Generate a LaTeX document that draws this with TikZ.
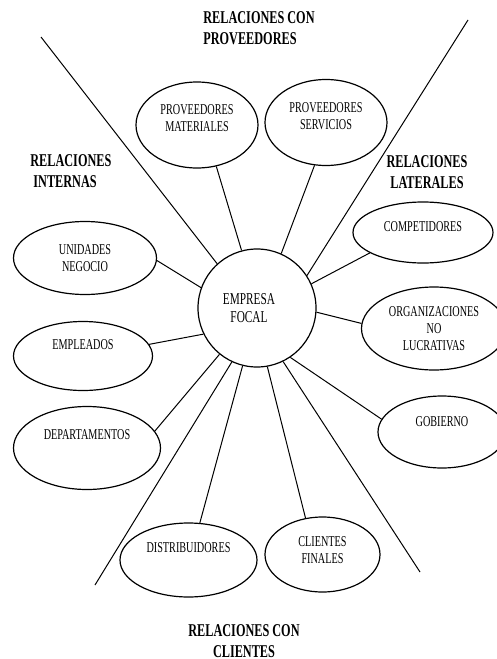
\documentclass[tikz,border=0pt]{standalone}
\usepackage{fontspec}
\setmainfont{Liberation Serif}[FakeStretch=0.68]
\usepackage{tikz}
\usetikzlibrary{shapes,arrows,positioning}
\tikzstyle{oval} = [ellipse, draw, line width=0.6pt, inner sep=0pt,
    align=center, font=\fontsize{7.5}{8.5}\selectfont]
\tikzstyle{focal} = [circle, draw, line width=0.6pt, inner sep=0pt,
    minimum size=59pt, align=center, font=\fontsize{8.3}{9}\selectfont]
\tikzstyle{group} = [inner sep=0pt, font=\fontsize{9}{10.5}\selectfont\bfseries]
\tikzstyle{line} = [draw, line width=0.5pt]
% extra depth under the last line, lifts the text inside its oval
\newcommand{\txtup}[1]{\rule[-#1]{0pt}{0pt}}

\begin{document}
\begin{tikzpicture}[x=0.5pt, y=-0.5pt]
		\useasboundingbox (0,0) rectangle (497,659);
		% node placement
		\node [focal] (empresa) at (257,308) {EMPRESA\hspace*{8pt}\\FOCAL\hspace*{8pt}};
		\node [oval, minimum width=61pt, minimum height=43pt] (provmat) at (197,125) {PROVEEDORES\\MATERIALES\txtup{6.5pt}};
		\node [oval, minimum width=61pt, minimum height=43pt] (provserv) at (326,122.5) {PROVEEDORES\\SERVICIOS\txtup{6pt}};
		\node [oval, minimum width=71.5pt, minimum height=36.5pt] (unidades) at (85,258) {UNIDADES\\NEGOCIO};
		\node [oval, minimum width=69.5pt, minimum height=34.5pt] (empleados) at (83,356) {EMPLEADOS\txtup{11pt}};
		\node [oval, minimum width=73.5pt, minimum height=41.5pt] (deptos) at (87,448) {DEPARTAMENTOS\txtup{13pt}};
		\node [oval, minimum width=70pt, minimum height=30.5pt] (compet) at (423,232.5) {COMPETIDORES\txtup{5.5pt}};
		\node [oval, minimum width=72.5pt, minimum height=41.5pt] (orglucr) at (434,328.5) {ORGANIZACIONES\\NO\\LUCRATIVAS};
		\node [oval, minimum width=64pt, minimum height=36pt] (gobierno) at (442,432) {GOBIERNO\txtup{10pt}};
		\node [oval, minimum width=68.5pt, minimum height=37pt] (distrib) at (188.5,560) {DISTRIBUIDORES\txtup{12pt}};
		\node [oval, minimum width=57.5pt, minimum height=37.5pt] (clientes) at (322.5,554.5) {CLIENTES\\FINALES\txtup{4.5pt}};

		\node [group, anchor=west, align=left] (provtitle) at (203,28.5) {RELACIONES CON\\PROVEEDORES};
		\node [group, anchor=west, align=left] (inttitle) at (30,171) {RELACIONES\\\ INTERNAS};
		\node [group, align=center] (lattitle) at (427,172) {RELACIONES\\LATERALES};
		\node [group, align=center] (clititle) at (244,641) {RELACIONES CON\\CLIENTES};

		% free ends of the long dividing lines
		\coordinate (ulend) at (41,37);
		\coordinate (urend) at (468,20);
		\coordinate (llend) at (95,585);
		\coordinate (lrend) at (420,572);

		\path[line] (ulend) -- (empresa.132);
		\path[line] (urend) -- (empresa.33);
		\path[line] (llend) -- (empresa.245);
		\path[line] (lrend) -- (empresa.296);

		\path[line] (provmat.295) -- (empresa.105);
		\path[line] (provserv.255) -- (empresa.66);
		\path[line] (compet.201) -- (empresa.24);
		\path[line] (orglucr.176) -- (empresa.356);
		\path[line] (gobierno.168) -- (empresa.304);
		\path[line] (clientes.115) -- (empresa.280);
		\path[line] (distrib.73) -- (empresa.256);
		\path[line] (deptos.14) -- (empresa.231);
		\path[line] (empleados.10) -- (empresa.206);
		\path[line] (unidades.358) -- (empresa.160);
	\end{tikzpicture}
\end{document}
